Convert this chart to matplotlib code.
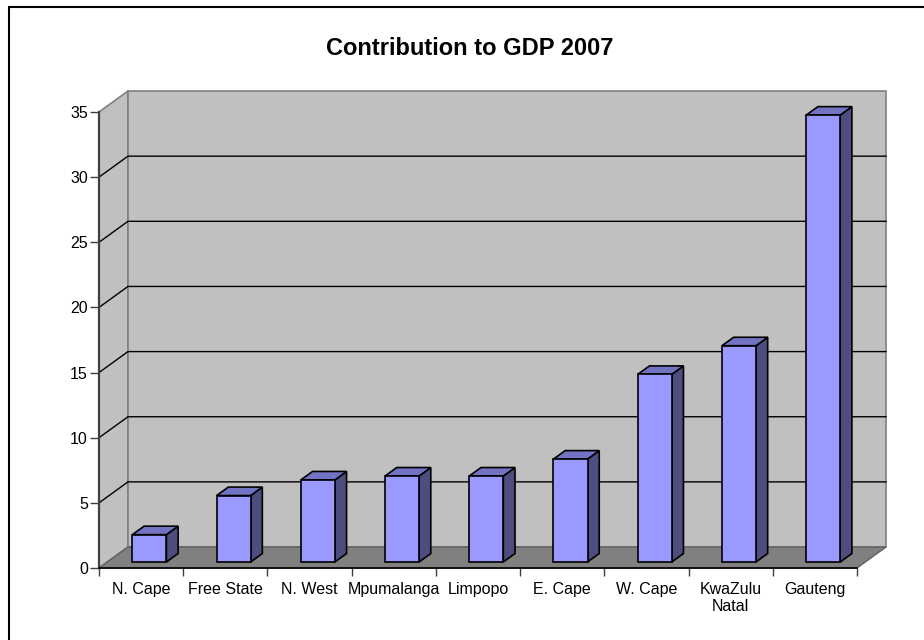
import matplotlib
matplotlib.use("Agg")
import matplotlib.pyplot as plt
from matplotlib.patches import Polygon, Rectangle

plt.rcParams['font.family'] = ['Liberation Sans', 'DejaVu Sans']

# Share of national GDP by province, 2007 (%)
provinces = ["N. Cape", "Free State", "N. West", "Mpumalanga", "Limpopo",
             "E. Cape", "W. Cape", "KwaZulu\nNatal", "Gauteng"]
gdp_share = [2.1, 5.1, 6.3, 6.6, 6.6, 7.9, 14.4, 16.6, 34.3]
y_ticks = [0, 5, 10, 15, 20, 25, 30, 35]
title = "Contribution to GDP 2007"

W, H = 924, 640
fig = plt.figure(figsize=(W / 100, H / 100), dpi=100)
fig.patch.set_facecolor("white")

# outer chart frame (left and top edges visible)
fig.patches.append(Rectangle((9 / W, -0.05), 1.2, 1 - 7 / H + 0.05,
                             transform=fig.transFigure, fill=False,
                             edgecolor="black", linewidth=1.5, zorder=0))

ax = fig.add_axes([99 / W, 72 / H, 758 / W, 456 / H])
n = len(provinces)
ymax = 35
ax.set_xlim(0, n)
ax.set_ylim(0, ymax)
ax.patch.set_visible(False)

# depth of the pseudo-3D box in data units
DX = 0.344
DY = 1.61


def proj(x, y, f):
    return (x + f * DX, y + f * DY)


wall_col = "#c0c0c0"
floor_col = "#808080"
edge_col = "#808080"

# side wall
ax.add_patch(Polygon([proj(0, 0, 0), proj(0, 0, 1), proj(0, ymax, 1), proj(0, ymax, 0)],
                     closed=True, facecolor=wall_col, edgecolor=edge_col,
                     linewidth=1.2, clip_on=False, zorder=0.5))
# back wall
ax.add_patch(Polygon([proj(0, 0, 1), proj(n, 0, 1), proj(n, ymax, 1), proj(0, ymax, 1)],
                     closed=True, facecolor=wall_col, edgecolor=edge_col,
                     linewidth=1.2, clip_on=False, zorder=0.5))

# gridlines on both walls
for v in y_ticks[1:-1]:
    xs = [proj(0, v, 0)[0], proj(0, v, 1)[0], proj(n, v, 1)[0]]
    ys = [proj(0, v, 0)[1], proj(0, v, 1)[1], proj(n, v, 1)[1]]
    ax.plot(xs, ys, color="black", linewidth=1.0, clip_on=False, zorder=0.8)

# floor
ax.add_patch(Polygon([proj(0, 0, 0), proj(n, 0, 0), proj(n, 0, 1), proj(0, 0, 1)],
                     closed=True, facecolor=floor_col, edgecolor="#606060",
                     linewidth=1.0, clip_on=False, zorder=0.9))

# columns
bw = 0.404
f0, f1 = 0.286, 0.69
front_col = "#9999ff"
top_col = "#7373c4"
side_col = "#4d4d80"
for i, v in enumerate(gdp_share):
    cx = i + 0.5
    xl, xr = cx - bw / 2, cx + bw / 2
    front = [proj(xl, 0, f0), proj(xr, 0, f0), proj(xr, v, f0), proj(xl, v, f0)]
    top = [proj(xl, v, f0), proj(xr, v, f0), proj(xr, v, f1), proj(xl, v, f1)]
    side = [proj(xr, 0, f0), proj(xr, 0, f1), proj(xr, v, f1), proj(xr, v, f0)]
    for pts, col in ((side, side_col), (top, top_col), (front, front_col)):
        ax.add_patch(Polygon(pts, closed=True, facecolor=col, edgecolor="black",
                             linewidth=1.2, joinstyle="miter", clip_on=False,
                             zorder=2 + i * 0.01))

# axes lines and ticks
for s in ("top", "right"):
    ax.spines[s].set_visible(False)
ax.spines["left"].set_color("#404040")
ax.spines["left"].set_linewidth(1.6)
ax.spines["bottom"].set_color("black")
ax.spines["bottom"].set_linewidth(1.2)
for s in ("left", "bottom"):
    ax.spines[s].set_zorder(3)

ax.set_yticks(y_ticks)
ax.set_yticklabels([str(t) for t in y_ticks])
ax.tick_params(axis="y", direction="out", length=6.5, width=1.0, color="#404040",
               pad=1.5, labelsize=11.5, labelcolor="black")

ax.set_xticks(range(n + 1))
ax.set_xticklabels([])
ax.set_xticks([i + 0.5 for i in range(n)], minor=True)
ax.set_xticklabels(provinces, minor=True, linespacing=1.2)
ax.tick_params(axis="x", which="major", direction="out", length=5.5, width=1.0,
               color="#404040")
ax.tick_params(axis="x", which="minor", length=0, pad=10, labelsize=11.5,
               labelcolor="black")

fig.text(470 / W, 1 - 55 / H, title, ha="center", va="baseline",
         fontsize=17, fontweight="bold")

fig.savefig("out.png", dpi=100, facecolor="white")
